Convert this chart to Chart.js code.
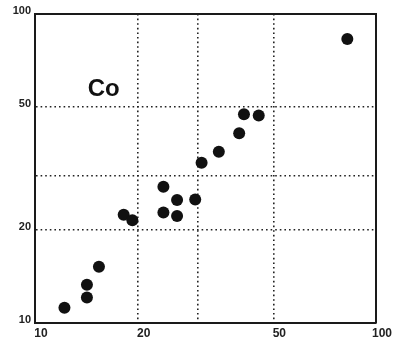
<!DOCTYPE html>
<html>
<head>
<meta charset="utf-8">
<script src="https://cdn.jsdelivr.net/npm/chart.js@4/dist/chart.umd.min.js"></script>
<style>
  html, body { margin: 0; padding: 0; background: #fff; }
  #wrap { width: 394px; height: 343px; }
</style>
</head>
<body>
<div id="wrap"><canvas id="c" width="394" height="343"></canvas></div>
<script>
const xValues = [12.2, 14.2, 14.2, 15.4, 18.2, 19.3, 23.8, 23.8, 26.1, 26.1, 29.5, 30.8, 34.6, 39.7, 41.0, 45.3, 82.4];
const yValues = [11.2, 12.1, 13.3, 15.2, 22.4, 21.5, 27.6, 22.8, 25.0, 22.2, 25.1, 33.0, 35.8, 41.1, 47.4, 46.9, 83.0];
const xTickValues = [10, 20, 30, 50, 100];
const xTickLabels = ['10', '20', '', '50', '100'];
const yTickValues = [10, 20, 30, 50, 100];
const yTickLabels = ['10', '20', '', '50', '100'];
const panelLabel = 'Co';
const panelLabelPos = { x: 15.9, y: 57 };

const points = xValues.map((x, i) => ({ x: x, y: yValues[i] }));

const gridColor = (vals) => (ctx) => {
  const v = ctx.tick && ctx.tick.value;
  return (v === vals[0] || v === vals[vals.length - 1]) ? 'rgba(0,0,0,0)' : '#222';
};

const framePlugin = {
  id: 'frame',
  afterDraw(chart) {
    const { ctx, chartArea: a, scales } = chart;
    ctx.save();
    ctx.strokeStyle = '#1a1a1a';
    ctx.lineWidth = 2;
    ctx.beginPath();
    ctx.moveTo(a.left, a.top);
    ctx.lineTo(a.right, a.top);
    ctx.lineTo(a.right, a.bottom);
    ctx.stroke();
    ctx.fillStyle = '#111';
    ctx.font = 'bold 24px "Liberation Sans", Arial, sans-serif';
    ctx.textAlign = 'center';
    ctx.textBaseline = 'middle';
    ctx.fillText(panelLabel, scales.x.getPixelForValue(panelLabelPos.x), scales.y.getPixelForValue(panelLabelPos.y));
    ctx.restore();
  }
};

new Chart(document.getElementById('c'), {
  type: 'scatter',
  data: {
    datasets: [{
      data: points,
      backgroundColor: '#111',
      borderColor: '#111',
      borderWidth: 0,
      pointRadius: 6,
      pointHoverRadius: 6
    }]
  },
  options: {
    responsive: false,
    animation: false,
    events: [],
    layout: { padding: { top: 14, right: 18, left: 0, bottom: 0 } },
    plugins: { legend: { display: false }, tooltip: { enabled: false } },
    scales: {
      x: {
        type: 'logarithmic',
        min: 10, max: 100,
        afterBuildTicks: (s) => { s.ticks = xTickValues.map(v => ({ value: v })); },
        afterFit: (s) => { s.height = 20; },
        ticks: {
          autoSkip: false, maxRotation: 0,
          callback: (v) => { const i = xTickValues.indexOf(v); return i >= 0 ? xTickLabels[i] : ''; },
          color: '#222',
          font: { family: '"Liberation Sans", Arial, sans-serif', size: 12, weight: 'bold' },
          padding: 3,
          labelOffset: 6
        },
        grid: { drawTicks: false, color: gridColor(xTickValues), lineWidth: 1.6 },
        border: { display: true, color: '#1a1a1a', width: 2, dash: [1.6, 3] }
      },
      y: {
        type: 'logarithmic',
        min: 10, max: 100,
        afterBuildTicks: (s) => { s.ticks = yTickValues.map(v => ({ value: v })); },
        afterFit: (s) => { s.width = 35; },
        ticks: {
          autoSkip: false,
          callback: (v) => { const i = yTickValues.indexOf(v); return i >= 0 ? yTickLabels[i] : ''; },
          color: '#222',
          font: { family: '"Liberation Sans", Arial, sans-serif', size: 11, weight: 'bold' },
          padding: 4,
          labelOffset: -3
        },
        grid: { drawTicks: false, color: gridColor(yTickValues), lineWidth: 1.6 },
        border: { display: true, color: '#1a1a1a', width: 2, dash: [1.6, 3] }
      }
    }
  },
  plugins: [framePlugin]
});
</script>
</body>
</html>
